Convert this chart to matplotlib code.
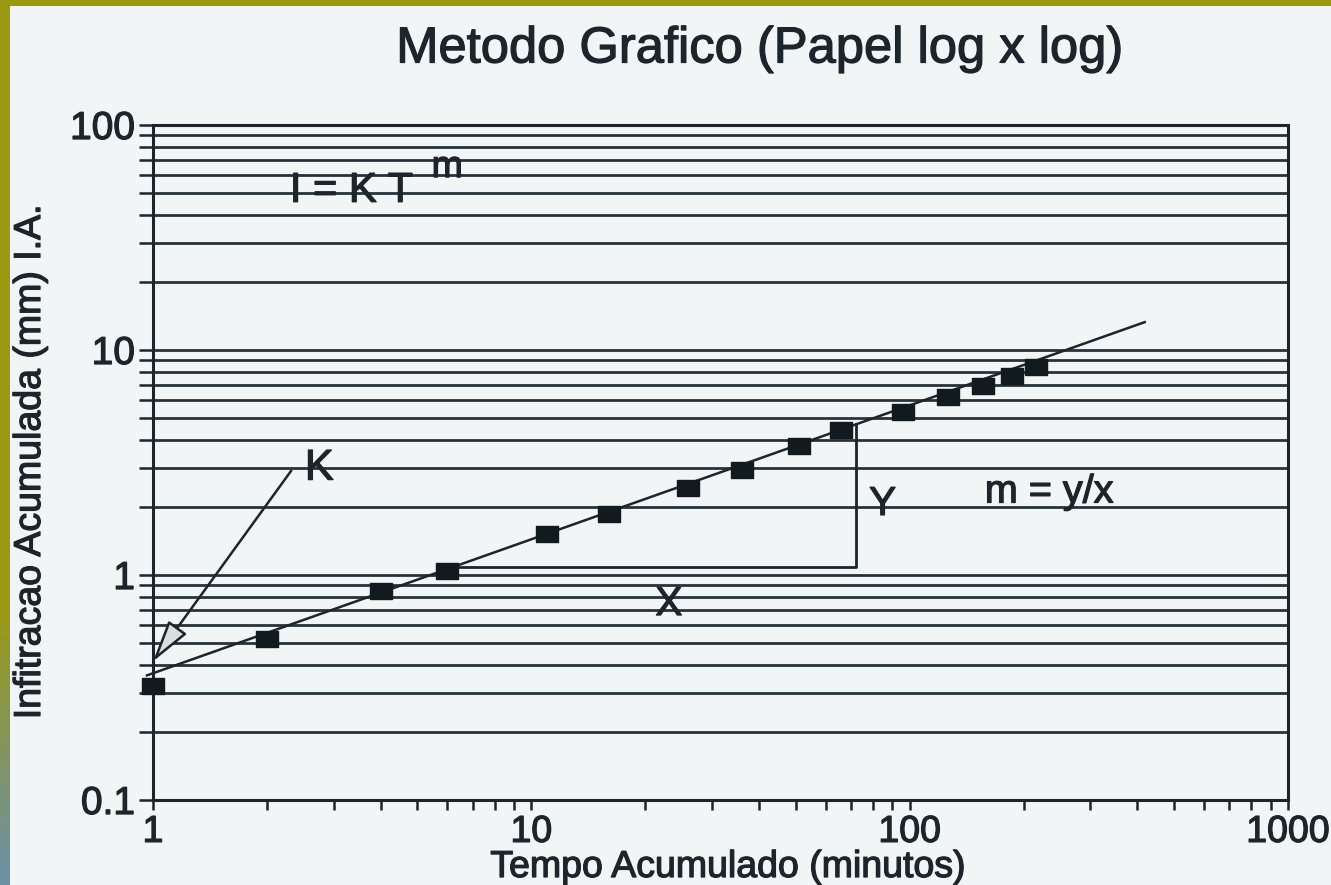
import numpy as np
import matplotlib
matplotlib.use("Agg")
import matplotlib.pyplot as plt
import matplotlib.patheffects as pe
from matplotlib.ticker import FixedLocator, FixedFormatter, NullFormatter

plt.rcParams['font.family'] = ['Liberation Sans', 'DejaVu Sans']

# Infiltration test: cumulative time (min) vs cumulative infiltration (mm)
tempo = [1, 2, 4, 6, 11, 16, 26, 36, 51, 66, 96, 126, 156, 186, 216]
infiltracao = [0.32, 0.52, 0.85, 1.04, 1.52, 1.87, 2.44, 2.94, 3.73, 4.39,
               5.28, 6.17, 6.90, 7.70, 8.40]

# Fitted straight line on log-log paper (I = K T^m)
ajuste_t = [0.964, 418]
ajuste_i = [0.358, 13.3]

# Slope triangle (X run, Y rise)
triangulo_t = [6, 72, 72]
triangulo_i = [1.08, 1.08, 4.67]

# Intercept K pointer (tip, tail)
k_ponta = (1.0, 0.413)
k_cauda = (2.32, 2.91)

x_ticks = [1, 10, 100, 1000]
x_ticklabels = ['1', '10', '100', '1000']
y_ticks = [0.1, 1, 10, 100]
y_ticklabels = ['0.1', '1', '10', '100']
y_minor = [m * 10.0 ** e for e in (-1, 0, 1) for m in range(2, 10)]
x_minor = [m * 10.0 ** e for e in (0, 1, 2) for m in range(2, 10)]

INK = '#1b252b'
PAPER = '#f2f5f5'
W, H = 1331, 885
bold_ink = [pe.withStroke(linewidth=0.9, foreground=INK)]

fig = plt.figure(figsize=(W / 100, H / 100), dpi=100)
fig.patch.set_facecolor(PAPER)

# scanner border: olive strip on top, olive-to-steel strip on the left
band = fig.add_axes([0, 0, 10 / W, 1])
band.axis('off')
olive = np.array([0.61, 0.60, 0.06])
steel = np.array([0.42, 0.57, 0.66])
rows = np.linspace(0, 1, 400)
mix = np.clip((rows - 0.68) / 0.32, 0, 1)[:, None]
grad = (1 - mix) * olive + mix * steel
band.imshow(grad[:, None, :].repeat(2, axis=1), aspect='auto', extent=[0, 1, 0, 1])
top = fig.add_axes([0, 1 - 6 / H, 1, 6 / H])
top.axis('off')
top.add_patch(plt.Rectangle((0, 0), 1, 1, color=olive, transform=top.transAxes))

ax = fig.add_axes([153 / W, 1 - 800 / H, (1288 - 153) / W, (800 - 125) / H])
ax.set_facecolor(PAPER)
ax.set_xscale('log')
ax.set_yscale('log')
ax.set_xlim(1, 1000)
ax.set_ylim(0.1, 100)

ax.xaxis.set_major_locator(FixedLocator(x_ticks))
ax.xaxis.set_major_formatter(FixedFormatter(x_ticklabels))
ax.xaxis.set_minor_locator(FixedLocator(x_minor))
ax.xaxis.set_minor_formatter(NullFormatter())
ax.yaxis.set_major_locator(FixedLocator(y_ticks))
ax.yaxis.set_major_formatter(FixedFormatter(y_ticklabels))
ax.yaxis.set_minor_locator(FixedLocator(y_minor))
ax.yaxis.set_minor_formatter(NullFormatter())

ax.tick_params(axis='y', which='both', direction='out', length=10, width=1.8,
               color=INK, pad=3, labelsize=28, labelcolor=INK)
ax.tick_params(axis='x', which='both', direction='out', length=7, width=1.8,
               color=INK, pad=3, labelsize=27, labelcolor=INK)
for lab in ax.get_xticklabels() + ax.get_yticklabels():
    lab.set_path_effects(bold_ink)
for s in ax.spines.values():
    s.set_color(INK)
    s.set_linewidth(2.2)

ax.yaxis.grid(True, which='both', color='#27323a', lw=2.0)
ax.xaxis.grid(False, which='both')
ax.set_axisbelow(True)

# fitted line, slightly overshooting the left axis
ax.plot(ajuste_t, ajuste_i, color=INK, lw=1.8, clip_on=False, zorder=3)

# slope triangle
ax.plot(triangulo_t, triangulo_i, color=INK, lw=2.0, zorder=3)

# measured points as flat rectangles
rect = [(-1.35, -1), (1.35, -1), (1.35, 1), (-1.35, 1), (-1.35, -1)]
ax.plot(tempo, infiltracao, linestyle='none', marker=rect, ms=16,
        color='#111a1f', zorder=4, clip_on=False)

# K pointer
ax.annotate('', xy=k_ponta, xytext=k_cauda,
            arrowprops=dict(arrowstyle='-|>,head_length=1.3,head_width=0.35',
                            mutation_scale=20, fc='#d9dede', ec=INK, lw=1.8,
                            shrinkA=0, shrinkB=0), zorder=5)

txt = dict(color=INK, path_effects=bold_ink)
ax.text(2.52, 2.97, 'K', fontsize=31, ha='left', va='center', **txt)
ax.text(2.30, 51, 'I = K T', fontsize=30, ha='left', va='center', **txt)
ax.text(5.45, 65, 'm', fontsize=27, ha='left', va='center', **txt)
ax.text(84.8, 2.07, 'Y', fontsize=29, ha='center', va='center', **txt)
ax.text(23.1, 0.743, 'X', fontsize=29, ha='center', va='center', **txt)
ax.text(158, 2.35, 'm = y/x', fontsize=28.5, ha='left', va='center', **txt)

fig.text(760 / W, 1 - 49 / H, 'Metodo Grafico (Papel log x log)', fontsize=36.5,
         ha='center', va='center', **txt)
fig.text(728 / W, 1 - 867 / H, 'Tempo Acumulado (minutos)', fontsize=27,
         ha='center', va='center', **txt)
fig.text(30 / W, 1 - 462 / H, 'Infitracao Acumulada (mm) I.A.', fontsize=27,
         ha='center', va='center', rotation=90, **txt)

fig.savefig('out.png', dpi=100, facecolor=fig.get_facecolor())
